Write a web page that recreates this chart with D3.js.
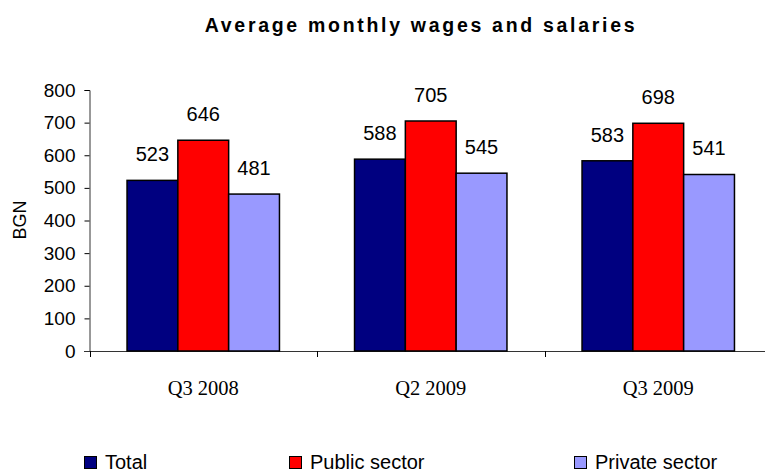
<!DOCTYPE html>
<html>
<head>
<meta charset="utf-8">
<script src="https://cdn.jsdelivr.net/npm/d3@7"></script>
<style>
  body { margin: 0; background: #fff; }
  text { font-family: "Liberation Sans", Arial, sans-serif; fill: #000; }
</style>
</head>
<body>
<svg id="chart" width="765" height="472"></svg>
<script>
// data
var categories = ["Q3 2008", "Q2 2009", "Q3 2009"];
var seriesNames = ["Total", "Public sector", "Private sector"];
var total = [523, 588, 583];
var publicSector = [646, 705, 698];
var privateSector = [481, 545, 541];
var yTicks = [0, 100, 200, 300, 400, 500, 600, 700, 800];
var colors = ["#000080", "#ff0000", "#9999ff"];

var svg = d3.select("#chart");

var x0 = d3.scaleBand().domain(categories).range([89.5, 772]).paddingInner(0.33).paddingOuter(0.165);
var x1 = d3.scaleBand().domain(seriesNames).range([0, x0.bandwidth()]);
var y = d3.scaleLinear().domain([0, 800]).range([351, 90]);

var rows = categories.map(function(c, i) {
    return {cat: c, vals: [total[i], publicSector[i], privateSector[i]]};
});

// title
svg.append("text")
    .attr("x", 421).attr("y", 32)
    .attr("text-anchor", "middle")
    .style("font-size", "19.5px").style("font-weight", "bold")
    .style("letter-spacing", "2.7px")
    .text("Average monthly wages and salaries");

// y axis
var yAxis = svg.append("g")
    .attr("transform", "translate(89.5,0)")
    .call(d3.axisLeft(y).tickValues(yTicks).tickSize(5).tickPadding(9));
yAxis.select(".domain").attr("stroke", "#333");
yAxis.selectAll("text").style("font-size", "19px").style("font-family", "Liberation Sans, Arial, sans-serif");

svg.append("text")
    .attr("transform", "translate(26,220) rotate(-90)")
    .attr("text-anchor", "middle")
    .style("font-size", "18px")
    .text("BGN");

// x axis line + ticks at category boundaries
svg.append("line")
    .attr("x1", 84).attr("x2", 765)
    .attr("y1", 351.5).attr("y2", 351.5)
    .attr("stroke", "#333");
svg.selectAll(".xtick")
    .data(categories)
    .join("line")
    .attr("x1", function(d) { return Math.round(x0(d) - x0.step() * x0.paddingOuter()) + 0.5; })
    .attr("x2", function(d) { return Math.round(x0(d) - x0.step() * x0.paddingOuter()) + 0.5; })
    .attr("y1", 351).attr("y2", 357)
    .attr("stroke", "#000");

svg.selectAll(".xlab")
    .data(categories)
    .join("text")
    .attr("x", function(d) { return x0(d) + x0.bandwidth() / 2; })
    .attr("y", 395)
    .attr("text-anchor", "middle")
    .style("font-family", "Liberation Serif, Times New Roman, serif")
    .style("font-size", "20.5px")
    .text(function(d) { return d; });

// bars
var groups = svg.selectAll(".grp")
    .data(rows)
    .join("g")
    .attr("transform", function(d) { return "translate(" + x0(d.cat) + ",0)"; });

groups.selectAll("rect")
    .data(function(d) { return d.vals.map(function(v, i) { return {name: seriesNames[i], v: v, i: i}; }); })
    .join("rect")
    .attr("x", function(d) { return x1(d.name); })
    .attr("width", x1.bandwidth())
    .attr("y", function(d) { return y(d.v); })
    .attr("height", function(d) { return y(0) - y(d.v); })
    .attr("fill", function(d) { return colors[d.i]; })
    .attr("stroke", "#000")
    .attr("stroke-width", 1.5);

groups.selectAll(".val")
    .data(function(d) { return d.vals.map(function(v, i) { return {name: seriesNames[i], v: v}; }); })
    .join("text")
    .attr("x", function(d) { return x1(d.name) + x1.bandwidth() / 2; })
    .attr("y", function(d) { return y(d.v) - 19; })
    .attr("text-anchor", "middle")
    .style("font-size", "20px")
    .text(function(d) { return d.v; });

// legend
var legX = [84, 289, 574];
var leg = svg.selectAll(".leg")
    .data(seriesNames)
    .join("g")
    .attr("transform", function(d, i) { return "translate(" + legX[i] + ",456)"; });
leg.append("rect")
    .attr("x", 0.5).attr("y", 0.5)
    .attr("width", 12).attr("height", 12)
    .attr("fill", function(d, i) { return colors[i]; })
    .attr("stroke", "#000");
leg.append("text")
    .attr("x", 21).attr("y", 13)
    .style("font-size", "20px")
    .text(function(d) { return d; });
</script>
</body>
</html>
